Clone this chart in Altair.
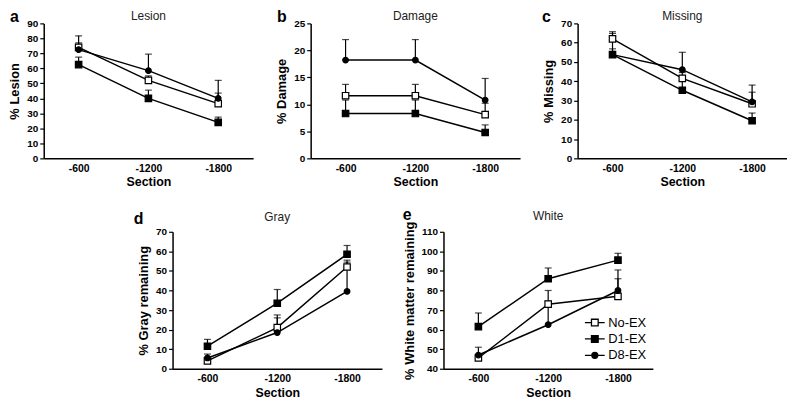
import altair as alt
import pandas as pd

sections = ["-600", "-1200", "-1800"]
groups = ["No-EX", "D1-EX", "D8-EX"]

# Panel a: Lesion (mean, SEM)
lesion_noex = [74.0, 52.0, 36.5]
lesion_noex_sem = [3.0, 3.0, 7.0]
lesion_d1 = [62.5, 40.0, 24.0]
lesion_d1_sem = [5.0, 5.5, 3.5]
lesion_d8 = [72.5, 58.5, 40.0]
lesion_d8_sem = [9.2, 11.0, 12.0]

# Panel b: Damage
damage_noex = [11.6, 11.6, 8.1]
damage_noex_sem = [2.1, 2.1, 2.1]
damage_d1 = [8.3, 8.3, 4.8]
damage_d1_sem = [2.5, 2.5, 1.4]
damage_d8 = [18.2, 18.2, 10.8]
damage_d8_sem = [3.8, 3.8, 4.0]

# Panel c: Missing
missing_noex = [62.0, 41.5, 28.3]
missing_noex_sem = [3.7, 3.0, 6.0]
missing_d1 = [53.8, 35.3, 19.5]
missing_d1_sem = [3.0, 5.0, 4.0]
missing_d8 = [53.8, 46.0, 29.3]
missing_d8_sem = [11.0, 9.0, 8.7]

# Panel d: Gray remaining
gray_noex = [4.0, 21.0, 52.0]
gray_noex_sem = [1.5, 6.5, 3.5]
gray_d1 = [11.5, 33.5, 58.5]
gray_d1_sem = [3.5, 7.0, 4.5]
gray_d8 = [5.5, 18.5, 39.5]
gray_d8_sem = [2.0, 7.5, 15.0]

# Panel e: White matter remaining
white_noex = [45.5, 73.0, 77.0]
white_noex_sem = [1.5, 7.0, 9.0]
white_d1 = [61.5, 86.0, 95.5]
white_d1_sem = [7.0, 5.5, 3.5]
white_d8 = [47.0, 62.5, 80.0]
white_d8_sem = [4.0, 12.0, 10.5]

FONT = "Liberation Sans"


def make_df(series):
    rows = []
    for g, (means, sems) in zip(groups, series):
        for s, m, e in zip(sections, means, sems):
            rows.append({"section": s, "group": g, "mean": m, "upper": m + e})
    return pd.DataFrame(rows)


SYM_SQ = "M-1.33,0H-0.45M0.45,0H1.33M-0.45,-0.45H0.45V0.45H-0.45Z"
SYM_CI = "M-1.33,0H-0.4M0.4,0H1.33M-0.4,0A0.4,0.4,0,1,1,0.4,0A0.4,0.4,0,1,1,-0.4,0Z"


def panel(letter, heading, ytitle, df, domain, ticks, width, height,
          lx, ly, hy, legend=False):
    base = alt.Chart(df)
    xscale = alt.Scale(type="point", padding=0.5)
    xaxis = alt.Axis(title="Section", ticks=False, labelAngle=0,
                     labelPadding=5, titlePadding=2)
    x = alt.X("section:N", sort=sections, scale=xscale, axis=xaxis)
    yscale = alt.Scale(domain=domain, nice=False, zero=False)
    yaxis = alt.Axis(title=ytitle, values=ticks, titlePadding=5)
    y = alt.Y("mean:Q", scale=yscale, axis=yaxis, title=ytitle)
    yu = alt.Y("upper:Q", scale=yscale, axis=yaxis, title=ytitle)

    lines = base.mark_line(color="black", strokeWidth=1.5).encode(
        x=x, y=y, detail="group:N")
    bars = base.mark_rule(color="black", strokeWidth=1.2).encode(
        x=x, y=y, y2="upper:Q")
    caps = base.mark_tick(orient="horizontal", size=7, thickness=1.2,
                          color="black").encode(x=x, y=yu)
    p_noex = base.transform_filter(alt.datum.group == groups[0]).mark_point(
        shape="square", filled=True, fill="white", stroke="black",
        strokeWidth=1.2, size=42, opacity=1).encode(x=x, y=y)
    p_d1 = base.transform_filter(alt.datum.group == groups[1]).mark_point(
        shape="square", filled=True, fill="black", stroke="black",
        strokeWidth=1.2, size=42, opacity=1).encode(x=x, y=y)
    p_d8 = base.transform_filter(alt.datum.group == groups[2]).mark_point(
        shape="circle", filled=True, fill="black", stroke="black",
        strokeWidth=1.2, size=32, opacity=1).encode(x=x, y=y)
    lab = alt.Chart(alt.Data(values=[{"t": letter}])).mark_text(
        font=FONT, fontSize=16, fontWeight="bold", align="left",
        baseline="alphabetic", color="black").encode(
        x=alt.value(lx), y=alt.value(ly), text="t:N")
    head = alt.Chart(alt.Data(values=[{"t": heading}])).mark_text(
        font=FONT, fontSize=12, align="center",
        baseline="alphabetic", color="#222").encode(
        x=alt.value(width / 2), y=alt.value(hy), text="t:N")

    layers = [lines, bars, caps, p_noex, p_d1, p_d8, lab, head]
    if legend:
        leg = alt.Legend(
            title=None, orient="bottom-right", offset=6, padding=0,
            labelFont=FONT, labelFontSize=13, labelColor="black",
            labelOffset=5, rowPadding=0.5, symbolSize=225,
            symbolStrokeWidth=1.3,
        )
        legl = base.transform_filter("datum.mean < -1000").mark_point(
            filled=True, stroke="black", strokeWidth=1.3, size=225, opacity=1
        ).encode(
            x=x, y=y,
            shape=alt.Shape("group:N", scale=alt.Scale(domain=groups,
                            range=[SYM_SQ, SYM_SQ, SYM_CI]), legend=leg),
            fill=alt.Fill("group:N", scale=alt.Scale(domain=groups,
                          range=["white", "black", "black"]), legend=leg),
        )
        # invisible spacer so that the centred lower row sits like the original
        pad = alt.Chart(alt.Data(values=[{"t": "."}])).mark_text(
            fontSize=12, align="left", opacity=0).encode(
            x=alt.value(width + 2), y=alt.value(height / 2), text="t:N")
        layers += [legl, pad]

    return alt.layer(*layers).properties(width=width, height=height)


pa = panel("a", "Lesion", "% Lesion",
           make_df([(lesion_noex, lesion_noex_sem), (lesion_d1, lesion_d1_sem),
                    (lesion_d8, lesion_d8_sem)]),
           [0, 90], list(range(0, 91, 10)), 211, 136, -34, -1, -3)
pb = panel("b", "Damage", "% Damage",
           make_df([(damage_noex, damage_noex_sem), (damage_d1, damage_d1_sem),
                    (damage_d8, damage_d8_sem)]),
           [0, 25], list(range(0, 26, 5)), 211, 136, -34, -1, -3)
pc = panel("c", "Missing", "% Missing",
           make_df([(missing_noex, missing_noex_sem), (missing_d1, missing_d1_sem),
                    (missing_d8, missing_d8_sem)]),
           [0, 70], list(range(0, 71, 10)), 211, 136, -36, -1, -3)
pd_ = panel("d", "Gray", "% Gray remaining",
            make_df([(gray_noex, gray_noex_sem), (gray_d1, gray_d1_sem),
                     (gray_d8, gray_d8_sem)]),
            [0, 70], list(range(0, 71, 10)), 211, 138, -39, -8, -11)
pe = panel("e", "White", "% White matter remaining",
           make_df([(white_noex, white_noex_sem), (white_d1, white_d1_sem),
                    (white_d8, white_d8_sem)]),
           [40, 110], list(range(40, 111, 10)), 211, 138, -41, -12, -12,
           legend=True)

row1 = alt.hconcat(pa, pb, pc, spacing=58, bounds="flush")
row2 = alt.hconcat(pd_, pe, spacing=62, bounds="flush").resolve_scale(
    shape="independent", fill="independent").resolve_legend(
    shape="independent", fill="independent")

chart = alt.vconcat(row1, row2, spacing=19, center=True).resolve_scale(
    shape="independent", fill="independent").resolve_legend(
    shape="independent", fill="independent").properties(
    padding=0
).configure_view(stroke=None).configure_axis(
    domainColor="black", domainWidth=1.5, tickColor="black", tickWidth=1.2,
    tickSize=4, labelFont=FONT, labelFontSize=10, labelFontWeight="bold",
    labelColor="black", titleFont=FONT, titleFontSize=13,
    titleFontWeight="bold", titleColor="black", grid=False,
).configure_axisX(titleFontSize=12.5, labelFontSize=10.5)

chart.save("out.html", embed_options={"renderer": "svg", "actions": False})
